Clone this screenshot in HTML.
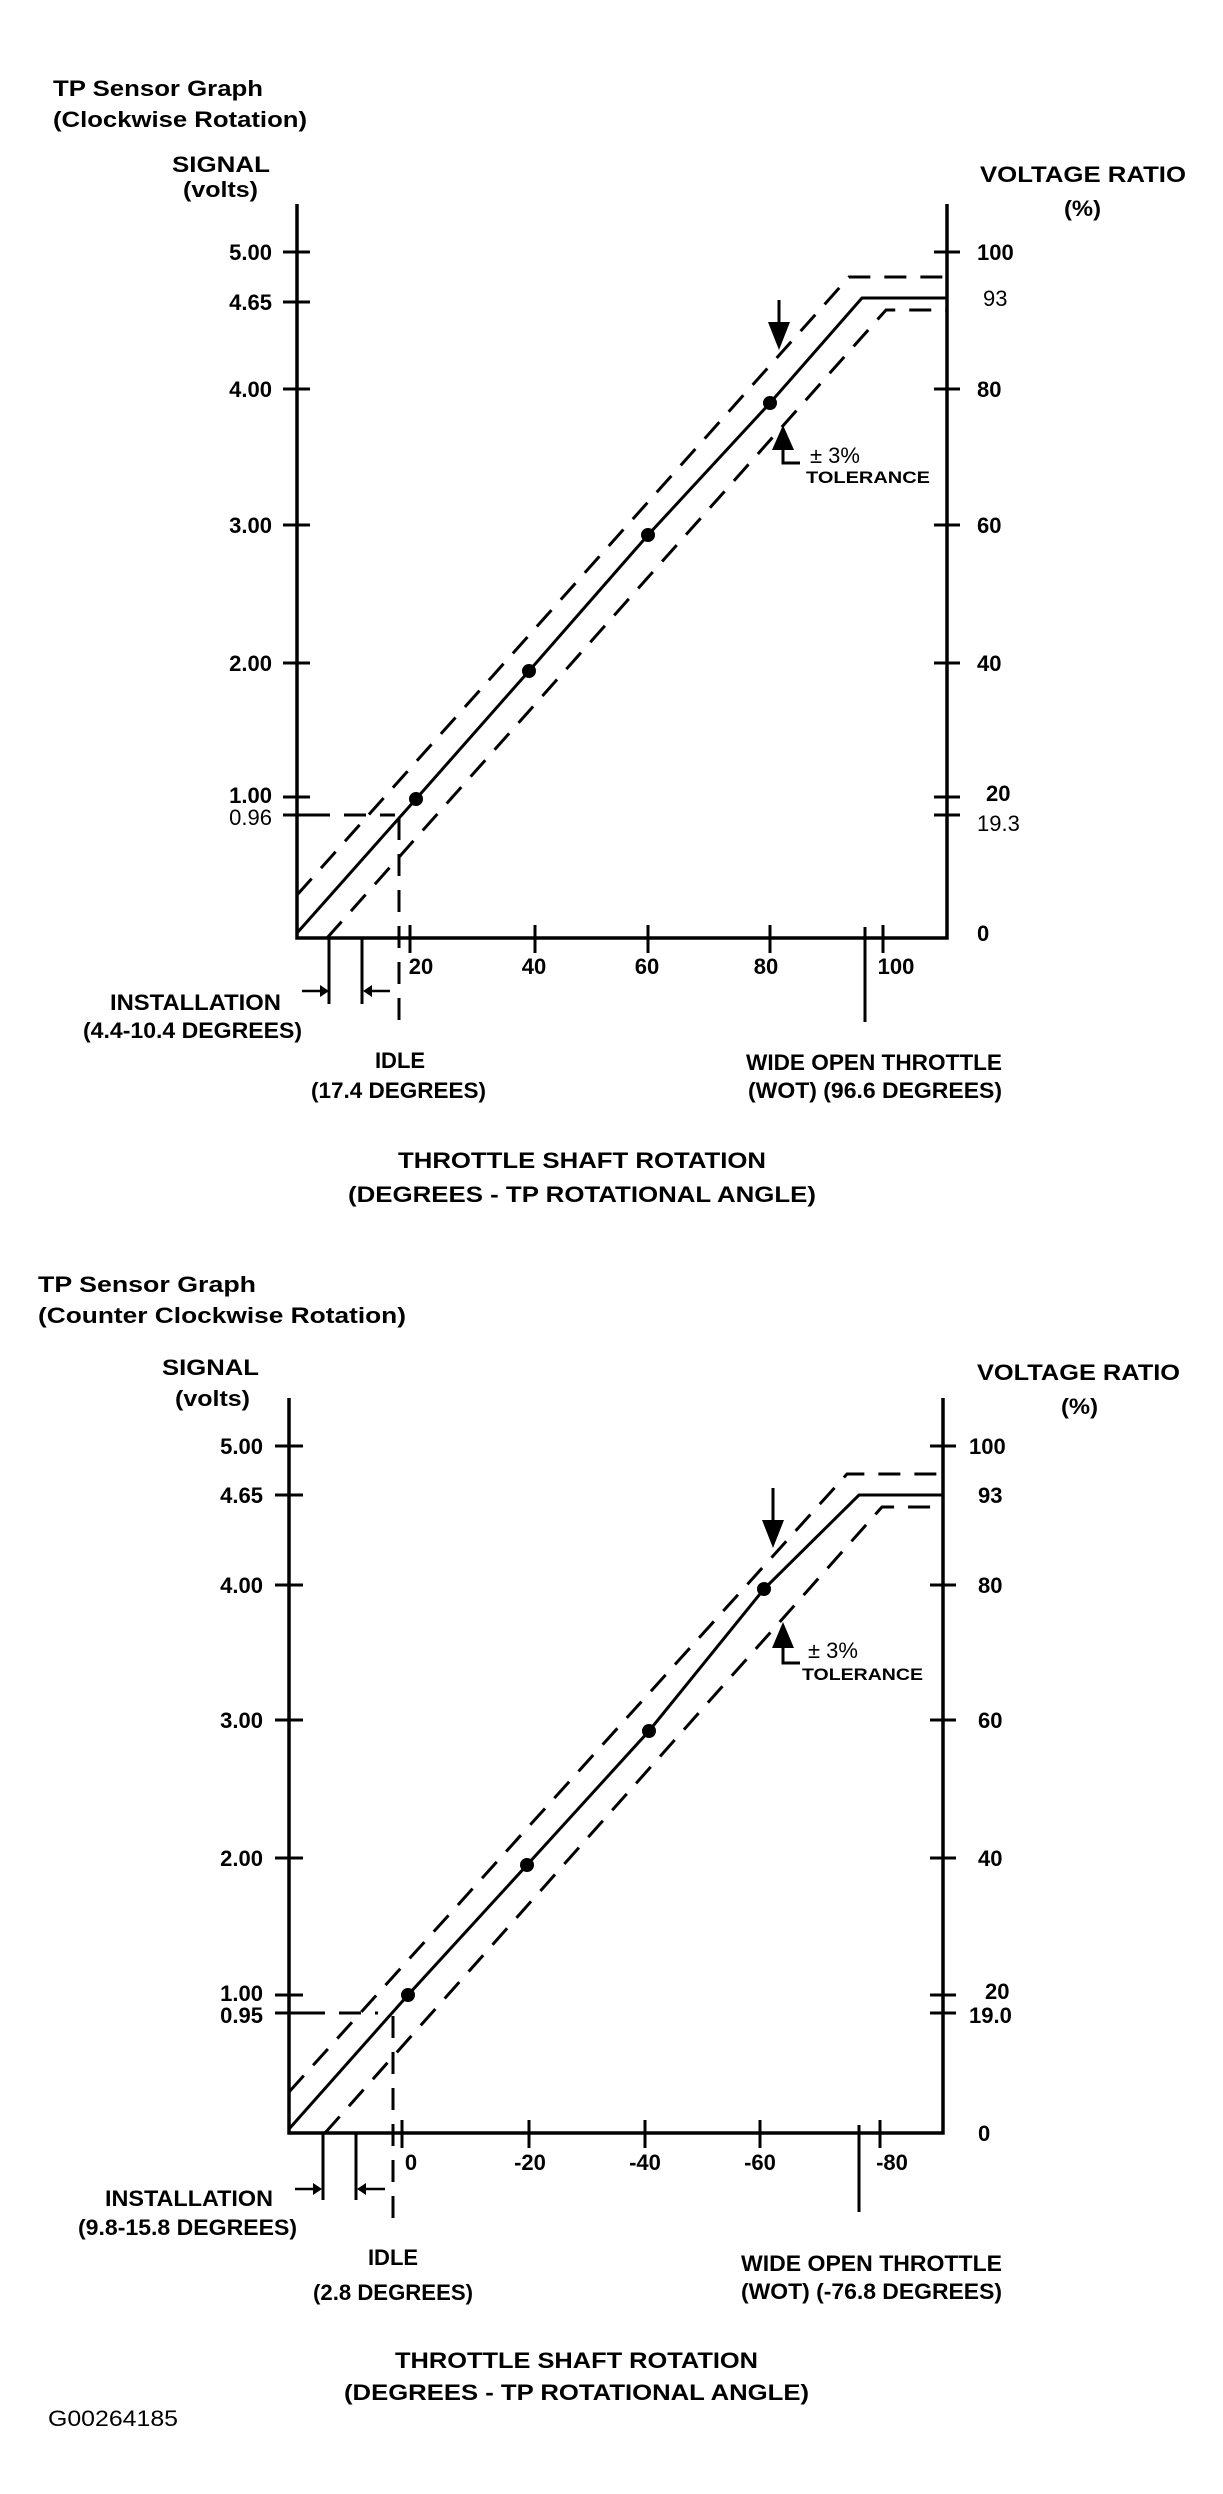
<!DOCTYPE html>
<html><head><meta charset="utf-8"><style>
html,body{margin:0;padding:0;background:#fff}
svg{display:block}
text{font-family:"Liberation Sans",Arial,sans-serif;fill:#000}
.b{font-weight:bold;font-size:22px}
.r{font-size:22px}
.s{font-size:17px;font-weight:bold}
</style></head><body>
<svg width="1223" height="2494" viewBox="0 0 1223 2494" xmlns="http://www.w3.org/2000/svg">
<g stroke="#000" fill="none" stroke-linecap="butt">
<!-- ===== TOP CHART ===== -->
<path d="M297,204 V938 H947 V204" stroke-width="3.5"/>
<path d="M283,252H310 M283,302H310 M283,389H310 M283,525H310 M283,663H310 M283,797H310 M283,815H310" stroke-width="3"/>
<path d="M934,252H960 M934,389H960 M934,525H960 M934,663H960 M934,797H960 M934,815H960" stroke-width="3"/>
<path d="M410,925V953 M535,925V953 M648,925V953 M770,925V953 M883,925V953" stroke-width="3"/>
<polyline points="297,933 416,799 529,671 648,535 770,403 862,298 947,298" stroke-width="3"/>
<polyline points="297,895 849,277 947,277" stroke-width="3" stroke-dasharray="22 14"/>
<polyline points="327,938 886,310 947,310" stroke-width="3" stroke-dasharray="22 14"/>
<path d="M308,815H395" stroke-width="3" stroke-dasharray="22 14"/>
<path d="M399,818V1023" stroke-width="3" stroke-dasharray="22 14"/>
<path d="M329,938V1004 M362,938V1004 M865,927V1022" stroke-width="3"/>
<path d="M302,991H320 M390,991H372" stroke-width="2.5"/>
<path d="M779,300V330" stroke-width="3"/>
<path d="M783,445V463H800" stroke-width="3"/>
<!-- ===== BOTTOM CHART ===== -->
<path d="M289,1398 V2133 H943 V1398" stroke-width="3.5"/>
<path d="M275,1446H303 M275,1495H303 M275,1585H303 M275,1720H303 M275,1858H303 M275,1995H303 M275,2013H303" stroke-width="3"/>
<path d="M930,1446H956 M930,1585H956 M930,1720H956 M930,1858H956 M930,1995H956 M930,2013H956" stroke-width="3"/>
<path d="M402,2120V2148 M529,2120V2148 M645,2120V2148 M760,2120V2148 M880,2120V2148" stroke-width="3"/>
<polyline points="289,2129 408,1995 527,1865 649,1731 764,1589 859,1495 943,1495" stroke-width="3"/>
<polyline points="289,2092 847,1474 943,1474" stroke-width="3" stroke-dasharray="22 14"/>
<polyline points="325,2133 882,1507 943,1507" stroke-width="3" stroke-dasharray="22 14"/>
<path d="M303,2013H378" stroke-width="3" stroke-dasharray="22 14"/>
<path d="M393,2016V2218" stroke-width="3" stroke-dasharray="22 14"/>
<path d="M323,2133V2200 M356,2133V2200 M859,2125V2212" stroke-width="3"/>
<path d="M295,2189H313 M385,2189H366" stroke-width="2.5"/>
<path d="M773,1488V1520" stroke-width="3"/>
<path d="M783,1640V1663H800" stroke-width="3"/>
</g>
<g fill="#000" stroke="none">
<circle cx="416" cy="799" r="7"/><circle cx="529" cy="671" r="7"/><circle cx="648" cy="535" r="7"/><circle cx="770" cy="403" r="7"/>
<polygon points="320,985 329,991 320,997"/><polygon points="372,985 363,991 372,997"/>
<polygon points="768,322 790,322 779,350"/>
<polygon points="783,425 772,450 794,450"/>
<circle cx="408" cy="1995" r="7"/><circle cx="527" cy="1865" r="7"/><circle cx="649" cy="1731" r="7"/><circle cx="764" cy="1589" r="7"/>
<polygon points="313,2183 322,2189 313,2195"/><polygon points="366,2183 357,2189 366,2195"/>
<polygon points="762,1520 784,1520 773,1548"/>
<polygon points="783,1622 772,1648 794,1648"/>
</g>

<!-- TOP TEXT -->
<text class="b" x="53" y="96" textLength="210" lengthAdjust="spacingAndGlyphs">TP Sensor Graph</text>
<text class="b" x="53" y="127" textLength="254" lengthAdjust="spacingAndGlyphs">(Clockwise Rotation)</text>
<text class="b" x="172" y="172" textLength="98" lengthAdjust="spacingAndGlyphs">SIGNAL</text>
<text class="b" x="183" y="197" textLength="75" lengthAdjust="spacingAndGlyphs">(volts)</text>
<text class="b" x="980" y="182" textLength="206" lengthAdjust="spacingAndGlyphs">VOLTAGE RATIO</text>
<text class="b" x="1064" y="216" textLength="37" lengthAdjust="spacingAndGlyphs">(%)</text>
<g class="b" text-anchor="end">
<text x="272" y="260">5.00</text><text x="272" y="310">4.65</text><text x="272" y="397">4.00</text>
<text x="272" y="533">3.00</text><text x="272" y="671">2.00</text><text x="272" y="803">1.00</text>
</g>
<text class="r" x="272" y="825" text-anchor="end">0.96</text>
<g class="b">
<text x="977" y="260">100</text><text x="977" y="397">80</text><text x="977" y="533">60</text>
<text x="977" y="671">40</text><text x="986" y="801">20</text><text x="977" y="941">0</text>
</g>
<text class="r" x="983" y="306">93</text>
<text class="r" x="977" y="831">19.3</text>
<g class="b" text-anchor="middle">
<text x="421" y="974">20</text><text x="534" y="974">40</text><text x="647" y="974">60</text>
<text x="766" y="974">80</text><text x="896" y="974">100</text>
</g>
<text class="b" x="110" y="1010" textLength="171" lengthAdjust="spacingAndGlyphs">INSTALLATION</text>
<text class="b" x="83" y="1038" textLength="219" lengthAdjust="spacingAndGlyphs">(4.4-10.4 DEGREES)</text>
<text class="b" x="400" y="1068" text-anchor="middle">IDLE</text>
<text class="b" x="311" y="1098" textLength="175" lengthAdjust="spacingAndGlyphs">(17.4 DEGREES)</text>
<text class="b" x="746" y="1070" textLength="256" lengthAdjust="spacingAndGlyphs">WIDE OPEN THROTTLE</text>
<text class="b" x="748" y="1098" textLength="254" lengthAdjust="spacingAndGlyphs">(WOT) (96.6 DEGREES)</text>
<text class="b" x="398" y="1168" textLength="368" lengthAdjust="spacingAndGlyphs">THROTTLE SHAFT ROTATION</text>
<text class="b" x="348" y="1202" textLength="468" lengthAdjust="spacingAndGlyphs">(DEGREES - TP ROTATIONAL ANGLE)</text>
<text class="r" x="810" y="463" font-size="18">± 3%</text>
<text class="s" x="806" y="483" textLength="124" lengthAdjust="spacingAndGlyphs">TOLERANCE</text>

<!-- BOTTOM TEXT -->
<text class="b" x="38" y="1292" textLength="218" lengthAdjust="spacingAndGlyphs">TP Sensor Graph</text>
<text class="b" x="38" y="1323" textLength="368" lengthAdjust="spacingAndGlyphs">(Counter Clockwise Rotation)</text>
<text class="b" x="162" y="1375" textLength="97" lengthAdjust="spacingAndGlyphs">SIGNAL</text>
<text class="b" x="175" y="1406" textLength="75" lengthAdjust="spacingAndGlyphs">(volts)</text>
<text class="b" x="977" y="1380" textLength="203" lengthAdjust="spacingAndGlyphs">VOLTAGE RATIO</text>
<text class="b" x="1061" y="1414" textLength="37" lengthAdjust="spacingAndGlyphs">(%)</text>
<g class="b" text-anchor="end">
<text x="263" y="1454">5.00</text><text x="263" y="1503">4.65</text><text x="263" y="1593">4.00</text>
<text x="263" y="1728">3.00</text><text x="263" y="1866">2.00</text><text x="263" y="2001">1.00</text>
<text x="263" y="2023">0.95</text>
</g>
<g class="b">
<text x="969" y="1454">100</text><text x="978" y="1503">93</text><text x="978" y="1593">80</text><text x="978" y="1728">60</text>
<text x="978" y="1866">40</text><text x="985" y="1999">20</text><text x="969" y="2023">19.0</text><text x="978" y="2141">0</text>
</g>
<g class="b" text-anchor="middle">
<text x="411" y="2170">0</text><text x="530" y="2170">-20</text><text x="645" y="2170">-40</text>
<text x="760" y="2170">-60</text><text x="892" y="2170">-80</text>
</g>
<text class="b" x="105" y="2206" textLength="168" lengthAdjust="spacingAndGlyphs">INSTALLATION</text>
<text class="b" x="78" y="2235" textLength="219" lengthAdjust="spacingAndGlyphs">(9.8-15.8 DEGREES)</text>
<text class="b" x="393" y="2265" text-anchor="middle">IDLE</text>
<text class="b" x="313" y="2300" textLength="160" lengthAdjust="spacingAndGlyphs">(2.8 DEGREES)</text>
<text class="b" x="741" y="2271" textLength="261" lengthAdjust="spacingAndGlyphs">WIDE OPEN THROTTLE</text>
<text class="b" x="741" y="2299" textLength="261" lengthAdjust="spacingAndGlyphs">(WOT) (-76.8 DEGREES)</text>
<text class="b" x="395" y="2368" textLength="363" lengthAdjust="spacingAndGlyphs">THROTTLE SHAFT ROTATION</text>
<text class="b" x="344" y="2400" textLength="465" lengthAdjust="spacingAndGlyphs">(DEGREES - TP ROTATIONAL ANGLE)</text>
<text class="r" x="808" y="1658" font-size="18">± 3%</text>
<text class="s" x="802" y="1680" textLength="121" lengthAdjust="spacingAndGlyphs">TOLERANCE</text>
<text class="r" x="48" y="2426" font-size="20" textLength="130" lengthAdjust="spacingAndGlyphs">G00264185</text>
</svg>
</body></html>
